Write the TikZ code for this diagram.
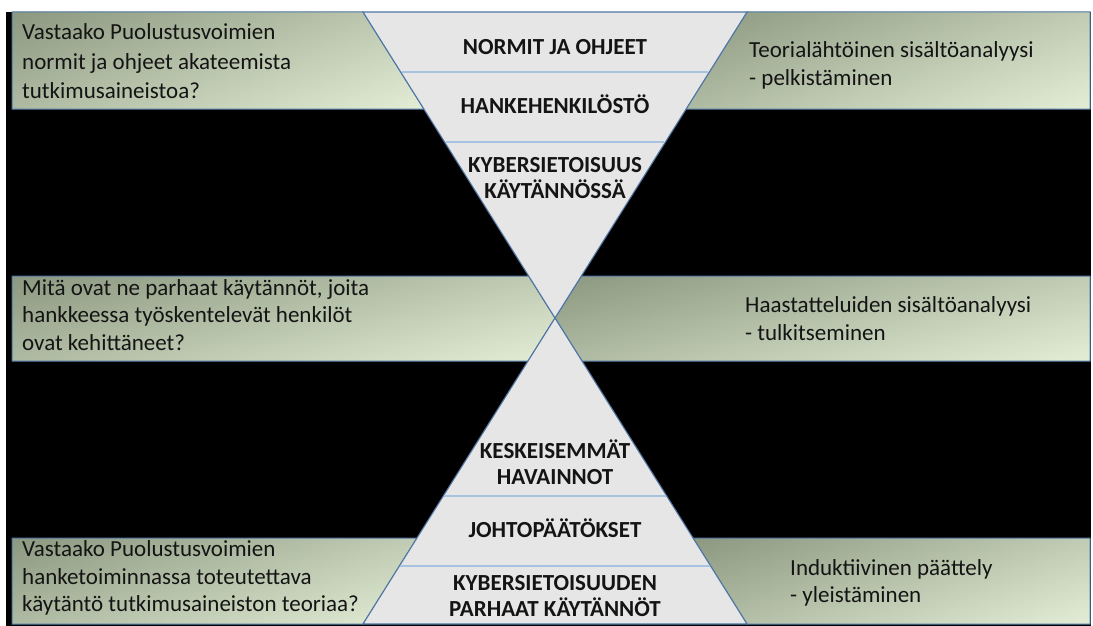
\documentclass[tikz,border=0pt]{standalone}
\usepackage{fontspec}
\setmainfont{Carlito}
\definecolor{gdark}{RGB}{140,152,128}
\definecolor{glight}{RGB}{228,238,215}
\definecolor{edgeblue}{RGB}{79,118,165}
\definecolor{sepblue}{RGB}{167,195,225}
\definecolor{trifill}{RGB}{230,230,230}
\definecolor{txt}{RGB}{20,20,20}
\newcommand\topstrut{\rule{0pt}{21pt}}
\tikzset{
  greenbox/.style={draw=edgeblue, line width=1pt,
    preaction={shade, left color=gdark, right color=glight, fill opacity=1},
    top color=gdark, bottom color=glight, fill opacity=0.4},
  tri/.style={fill=trifill, draw=edgeblue, line width=1.1pt, line join=miter},
  sepline/.style={draw=sepblue, line width=1.3pt},
  qtext/.style={anchor=north west, inner sep=0pt, align=left, text=txt, font=\fontsize{23}{27.5}\selectfont},
  level/.style={anchor=north, inner sep=0pt, align=center, text=txt, font=\fontsize{23}{26}\selectfont\bfseries}
}
\begin{document}
\begin{tikzpicture}[x=1pt,y=-1pt]
\useasboundingbox (0,0) rectangle (1093,626);
\fill[white] (0,0) rectangle (1093,626);
\fill[black] (6,12) rectangle (1091,626);
% hourglass geometry
\coordinate (C) at (555,318);
\coordinate (TL) at (363,12);
\coordinate (TR) at (747,12);
\coordinate (BL) at (363,624);
\coordinate (BR) at (747,624);
% green boxes
\path[greenbox] (12,12) -- (TL) -- (423.9,109) -- (12,109) -- cycle;
\path[greenbox] (TR) -- (1090,12) -- (1090,109) -- (686.1,109) -- cycle;
\path[greenbox] (12,276) -- (528.6,276) -- (C) -- (528,361) -- (12,361) -- cycle;
\path[greenbox] (581.4,276) -- (1090,276) -- (1090,361) -- (582,361) -- (C) -- cycle;
\path[greenbox] (12,538) -- (417,538) -- (BL) -- (12,624) -- cycle;
\path[greenbox] (693,538) -- (1090,538) -- (1090,624) -- (BR) -- cycle;
% triangles
\path[tri] (TL) -- (TR) -- (C) -- cycle;
\path[tri] (BL) -- (BR) -- (C) -- cycle;
% separators
\coordinate (s1a) at (401.6,72);  \coordinate (s1b) at (708.4,72);
\coordinate (s2a) at (445.6,142); \coordinate (s2b) at (664.4,142);
\coordinate (s3a) at (444.3,496); \coordinate (s3b) at (665.7,496);
\coordinate (s4a) at (400.4,566); \coordinate (s4b) at (709.6,566);
\draw[sepline] (s1a) -- (s1b);
\draw[sepline] (s2a) -- (s2b);
\draw[sepline] (s3a) -- (s3b);
\draw[sepline] (s4a) -- (s4b);
% level labels
\node[level] (n1) at (555,33) {\topstrut NORMIT JA OHJEET};
\node[level] (n2) at (555,92) {\topstrut HANKEHENKILÖSTÖ};
\node[level] (n3) at (555,151.7) {\topstrut KYBERSIETOISUUS\\KÄYTÄNNÖSSÄ};
\node[level] (n4) at (555,437.3) {\topstrut KESKEISEMMÄT\\HAVAINNOT};
\node[level] (n5) at (555,516.3) {\topstrut JOHTOPÄÄTÖKSET};
\node[level] (n6) at (555,569) {\topstrut KYBERSIETOISUUDEN\\PARHAAT KÄYTÄNNÖT};
% questions and methods
\node[qtext, font=\fontsize{23}{29.5}\selectfont] (q1) at (22,18.5) {\topstrut Vastaako Puolustusvoimien\\normit ja ohjeet akateemista\\tutkimusaineistoa?};
\node[qtext, font=\fontsize{23}{28}\selectfont] (r1) at (749,36) {\topstrut Teorialähtöinen sisältöanalyysi\\- pelkistäminen};
\node[qtext] (q2) at (22,274) {\topstrut Mitä ovat ne parhaat käytännöt, joita\\hankkeessa työskentelevät henkilöt\\ovat kehittäneet?};
\node[qtext] (r2) at (745,291.7) {\topstrut Haastatteluiden sisältöanalyysi\\- tulkitseminen};
\node[qtext] (q3) at (22,535.7) {\topstrut Vastaako Puolustusvoimien\\hanketoiminnassa toteutettava\\käytäntö tutkimusaineiston teoriaa?};
\node[qtext, font=\fontsize{23}{27}\selectfont] (r3) at (790,554) {\topstrut Induktiivinen päättely\\- yleistäminen};
\end{tikzpicture}
\end{document}
